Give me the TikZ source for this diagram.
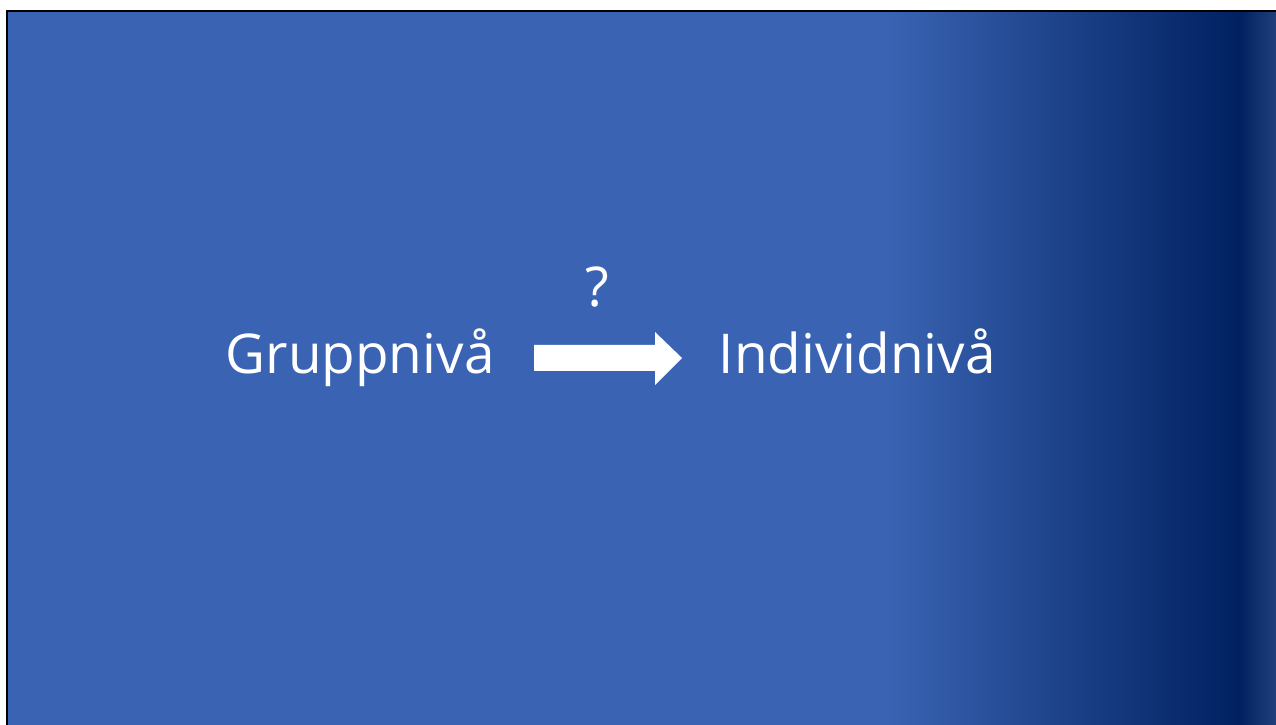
\documentclass[tikz,border=0pt]{standalone}
\usepackage{fontspec}
\setmainfont{Open Sans}
\usetikzlibrary{positioning}

\definecolor{slideblue}{RGB}{58,100,179}
\definecolor{slidenavy}{RGB}{0,32,96}
\definecolor{slideedge}{RGB}{32,64,124}

\tikzset{
  leveltext/.style={text=white, font=\fontsize{15.6}{19}\selectfont, inner sep=0pt, anchor=base west},
  asktext/.style={text=white, font=\fontsize{15.6}{19}\selectfont, inner sep=0pt, anchor=base}
}

\begin{document}
\begin{tikzpicture}[x=0.01cm, y=-0.01cm]
  \useasboundingbox (0, 0) rectangle (1276, 725);

% background
\fill [slideblue] (8, 12) rectangle (886, 725);
\shade [left color=slideblue, right color=slidenavy] (885, 12) rectangle (1241, 725);
\shade [left color=slidenavy, right color=slideedge] (1240, 12) rectangle (1276, 725);
\draw [line width=0.7pt] (6, 11) -- (1276, 11);
\draw [line width=0.7pt] (7, 11) -- (7, 725);

% texts
\node [leveltext] (grupp) at (225, 374) {Gruppnivå};
\node [leveltext] (indiv) at (718, 374) {Individnivå};
\node [asktext] (ask) at (597, 307) {?};

% block arrow
\fill [white]
(534, 345) -- (655, 345) -- (655, 332) -- (682, 358) -- (655, 385) -- (655, 371) -- (534, 371) -- cycle;

\end{tikzpicture}
\end{document}
